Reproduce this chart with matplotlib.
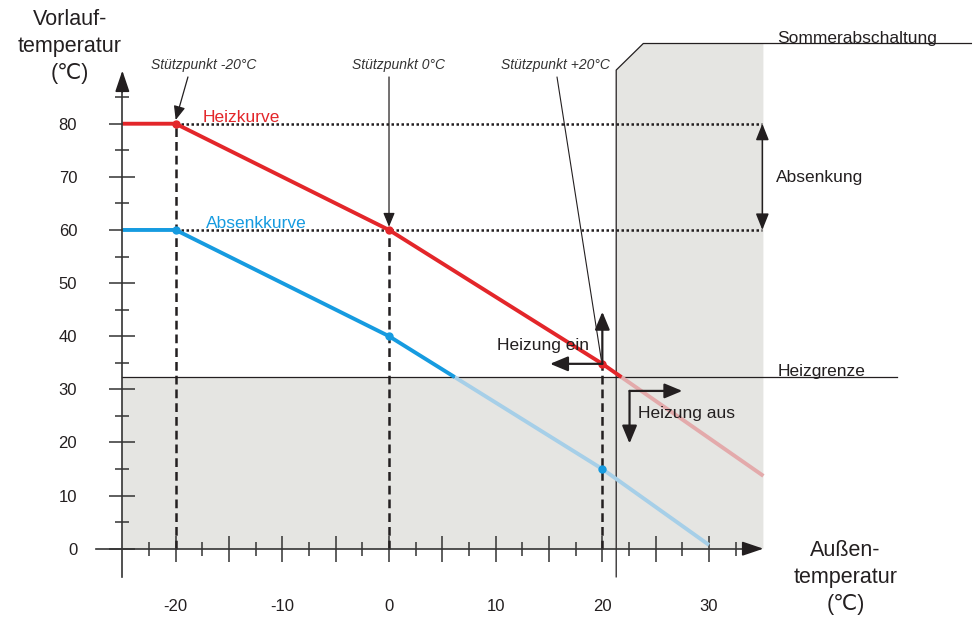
import matplotlib
matplotlib.use("Agg")
import matplotlib.pyplot as plt
import numpy as np
from matplotlib.ticker import FixedLocator, FixedFormatter

plt.rcParams['font.family'] = ['Liberation Sans', 'DejaVu Sans']
plt.rcParams['axes.unicode_minus'] = False

# ---------------- data ----------------
x_major = [-20, -15, -10, -5, 0, 5, 10, 15, 20, 25, 30]
x_labels = ['-20', '', '-10', '', '0', '', '10', '', '20', '', '30']
x_minor = [-22.5, -17.5, -12.5, -7.5, -2.5, 2.5, 7.5, 12.5, 17.5, 22.5, 27.5, 32.5]
y_major = [0, 10, 20, 30, 40, 50, 60, 70, 80]
y_labels = ['0', '10', '20', '30', '40', '50', '60', '70', '80']
y_minor = [5, 15, 25, 35, 45, 55, 65, 75, 85]

red_x = [-25, -20, 0, 20, 35.1]       # Heizkurve
red_y = [80, 80, 60, 34.8, 13.7]
blue_x = [-25, -20, 0, 20, 30]        # Absenkkurve
blue_y = [60, 60, 40, 15, 0.7]
stuetz_x = [-20, 0, 20]               # Stützpunkte
stuetz_red = [80, 60, 34.8]
stuetz_blue = [60, 40, 15]

heizgrenze = 32.3
sommer_x = 21.3
sommer_top = 95.1

# ---------------- figure ----------------
fig = plt.figure(figsize=(9.73, 6.17), dpi=100)
ax = fig.add_axes([0, 0, 1, 1])
ax.set_xlim(-36.47, 54.75)
ax.set_ylim(-12.86, 103.29)

TXT = '#231f20'
AX = '#333333'
RED = '#e3262a'
RED_F = '#e3aaab'
BLUE = '#169be0'
BLUE_F = '#a6cfe8'
GRAY = '#e5e5e2'

for s in ['top', 'right']:
    ax.spines[s].set_visible(False)
ax.spines['left'].set_position(('data', -25))
ax.spines['left'].set_bounds(-5.3, 89)
ax.spines['bottom'].set_position(('data', 0))
ax.spines['bottom'].set_bounds(-27.5, 34)
for s in ['left', 'bottom']:
    ax.spines[s].set_color(AX)
    ax.spines[s].set_linewidth(1.2)
    ax.spines[s].set_zorder(3)

ax.xaxis.set_major_locator(FixedLocator(x_major))
ax.xaxis.set_major_formatter(FixedFormatter(x_labels))
ax.xaxis.set_minor_locator(FixedLocator(x_minor))
ax.yaxis.set_major_locator(FixedLocator(y_major))
ax.yaxis.set_major_formatter(FixedFormatter(y_labels))
ax.yaxis.set_minor_locator(FixedLocator(y_minor))
ax.tick_params(which='major', direction='inout', length=19, width=1.1, color=AX,
               labelsize=12, labelcolor=TXT)
ax.tick_params(which='minor', direction='inout', length=9.5, width=1.1, color=AX)
ax.tick_params(axis='x', which='major', pad=26.5)
ax.tick_params(axis='y', which='major', pad=23)

# axis arrowheads
ax.annotate('', xy=(-25, 90), xytext=(-25, 86), zorder=4,
            arrowprops=dict(arrowstyle='-|>,head_length=0.65,head_width=0.22',
                            mutation_scale=20, color=TXT, lw=1.2, shrinkA=0, shrinkB=0))
ax.annotate('', xy=(35.1, 0), xytext=(33.5, 0), zorder=4,
            arrowprops=dict(arrowstyle='-|>,head_length=0.65,head_width=0.22',
                            mutation_scale=20, color=TXT, lw=1.2, shrinkA=0, shrinkB=0))

# gray region (no heating)
poly_x = [-25, -25, sommer_x, sommer_x, 23.84, 35.1, 35.1]
poly_y = [0, heizgrenze, heizgrenze, 90.1, sommer_top, sommer_top, 0]
ax.fill(poly_x, poly_y, color=GRAY, zorder=0, lw=0)

# Heizgrenze and Sommerabschaltung lines
ax.plot([-25, 47.6], [heizgrenze, heizgrenze], color=TXT, lw=0.9, zorder=2)
ax.plot([sommer_x, sommer_x, 23.84, 54.6], [-5.3, 90.1, sommer_top, sommer_top],
        color=TXT, lw=0.9, zorder=2)

# dashed verticals at Stützpunkte
for xs, ys in zip(stuetz_x, stuetz_red):
    ax.plot([xs, xs], [0, ys], color=TXT, lw=1.8, dashes=(3.5, 2), zorder=2)

# dotted horizontals
for yv in [80, 60]:
    ax.plot([-20, 35.0], [yv, yv], color=TXT, lw=1.8, dashes=(1, 1), zorder=2)

# Absenkung double arrow
ax.annotate('', xy=(35.0, 80), xytext=(35.0, 60), zorder=4,
            arrowprops=dict(arrowstyle='<|-|>,head_length=0.55,head_width=0.22',
                            mutation_scale=18, color=TXT, lw=1.1, shrinkA=0, shrinkB=0))


def split_curve(xs, ys, limit):
    xs = np.asarray(xs, float)
    ys = np.asarray(ys, float)
    xc = np.interp(limit, ys[::-1], xs[::-1])
    solid_mask = xs < xc
    sx = np.append(xs[solid_mask], xc)
    sy = np.append(ys[solid_mask], limit)
    fx = np.insert(xs[~solid_mask], 0, xc)
    fy = np.insert(ys[~solid_mask], 0, limit)
    return sx, sy, fx, fy


for xs, ys, c, cf in [(red_x, red_y, RED, RED_F), (blue_x, blue_y, BLUE, BLUE_F)]:
    sx, sy, fx, fy = split_curve(xs, ys, heizgrenze)
    ax.plot(fx, fy, color=cf, lw=2.8, solid_capstyle='butt', zorder=3)
    ax.plot(sx, sy, color=c, lw=2.8, solid_capstyle='butt', zorder=3)

ax.plot(stuetz_x, stuetz_red, 'o', color=RED, ms=5, zorder=4)
ax.plot(stuetz_x, stuetz_blue, 'o', color=BLUE, ms=5, zorder=4)

# Heizung ein / aus arrows
astyle = dict(arrowstyle='-|>,head_length=0.6,head_width=0.25', mutation_scale=18,
              color=TXT, lw=1.6, shrinkA=0, shrinkB=0)
ax.annotate('', xy=(20, 44.6), xytext=(20, 34.8), arrowprops=astyle, zorder=5)
ax.annotate('', xy=(15.1, 34.8), xytext=(20, 34.8), arrowprops=astyle, zorder=5)
ax.annotate('', xy=(27.5, 29.7), xytext=(22.55, 29.7), arrowprops=astyle, zorder=5)
ax.annotate('', xy=(22.55, 19.8), xytext=(22.55, 29.7), arrowprops=astyle, zorder=5)

# Stützpunkt labels and pointers
sp = dict(fontsize=10, style='italic', color='#333333', ha='center', va='center')
ax.text(-17.4, 91.0, 'Stützpunkt -20°C', **sp)
ax.text(0.85, 91.0, 'Stützpunkt 0°C', **sp)
ax.text(15.6, 91.0, 'Stützpunkt +20°C', **sp)
pstyle = dict(arrowstyle='-|>,head_length=0.6,head_width=0.25', mutation_scale=14,
              color=TXT, lw=0.9, shrinkA=0, shrinkB=0)
ax.annotate('', xy=(-20, 80.7), xytext=(-18.85, 88.8), arrowprops=pstyle, zorder=5)
ax.annotate('', xy=(0, 60.6), xytext=(0, 88.8), arrowprops=pstyle, zorder=5)
ax.annotate('', xy=(19.9, 35.6), xytext=(15.75, 88.8),
            arrowprops=dict(arrowstyle='-', color=TXT, lw=0.8, shrinkA=0, shrinkB=0), zorder=5)

# curve names
ax.text(-17.5, 80.4, 'Heizkurve', color=RED, fontsize=12.5, va='baseline', ha='left', zorder=5)
ax.text(-17.2, 60.4, 'Absenkkurve', color=BLUE, fontsize=12.5, va='baseline', ha='left', zorder=5)

# other labels
lab = dict(fontsize=12.5, color=TXT, zorder=5)
ax.text(10.1, 38.3, 'Heizung ein', ha='left', va='center', **lab)
ax.text(23.35, 25.5, 'Heizung aus', ha='left', va='center', **lab)
ax.text(36.4, 96.1, 'Sommerabschaltung', ha='left', va='center', **lab)
ax.text(36.3, 69.8, 'Absenkung', ha='left', va='center', **lab)
ax.text(36.4, 33.3, 'Heizgrenze', ha='left', va='center', **lab)

# axis titles
ttl = dict(fontsize=15.5, color=TXT, ha='center', va='center', linespacing=1.38)
ax.text(-29.9, 94.6, 'Vorlauf-\ntemperatur\n(℃)', **ttl)
ax.text(42.8, -5.5, 'Außen-\ntemperatur\n(℃)', **ttl)

fig.savefig('out.png', dpi=100)
